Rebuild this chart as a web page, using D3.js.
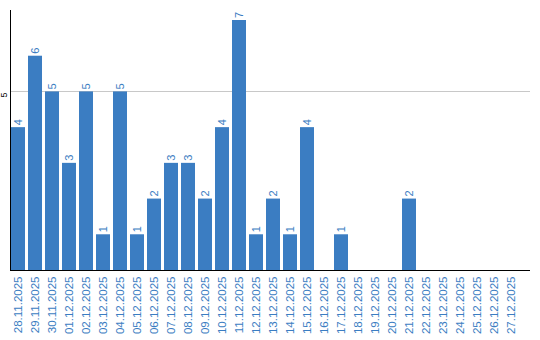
<!DOCTYPE html>
<html>
<head>
<meta charset="utf-8">
<script src="https://cdn.jsdelivr.net/npm/d3@7"></script>
<style>
  body { margin: 0; background: #fff; }
  svg { display: block; }
</style>
</head>
<body>
<script>
const dates = ['28.11.2025', '29.11.2025', '30.11.2025', '01.12.2025', '02.12.2025',
  '03.12.2025', '04.12.2025', '05.12.2025', '06.12.2025', '07.12.2025', '08.12.2025',
  '09.12.2025', '10.12.2025', '11.12.2025', '12.12.2025', '13.12.2025', '14.12.2025',
  '15.12.2025', '16.12.2025', '17.12.2025', '18.12.2025', '19.12.2025', '20.12.2025',
  '21.12.2025', '22.12.2025', '23.12.2025', '24.12.2025', '25.12.2025', '26.12.2025',
  '27.12.2025'];
const counts = [4, 6, 5, 3, 5, 1, 5, 1, 2, 3, 3, 2, 4, 7, 1, 2, 1, 4, 0, 1, 0, 0, 0, 2, 0, 0, 0, 0, 0, 0];
const yTicks = [5];

const data = dates.map((d, i) => ({ date: d, value: counts[i] }));
const blue = '#3b7dc2';
const plot = { left: 10, right: 530, top: 10, bottom: 270 };

const svg = d3.select('body').append('svg')
  .attr('width', 540)
  .attr('height', 340);

const x = d3.scaleBand()
  .domain(dates)
  .range([plot.left, 519])
  .paddingInner(0.1765)
  .paddingOuter(0.059);

const y = d3.scaleLinear()
  .domain([0, 7.28])
  .range([plot.bottom, plot.top]);

// grid
svg.append('g')
  .selectAll('line')
  .data(yTicks)
  .join('line')
  .attr('x1', plot.left)
  .attr('x2', plot.right)
  .attr('y1', d => Math.round(y(d)) + 0.5)
  .attr('y2', d => Math.round(y(d)) + 0.5)
  .attr('stroke', '#c8c8c8');

svg.append('g')
  .selectAll('rect')
  .data(data)
  .join('rect')
  .attr('x', d => x(d.date))
  .attr('y', d => y(d.value))
  .attr('width', x.bandwidth())
  .attr('height', d => y(0) - y(d.value))
  .attr('fill', blue);

// value labels
svg.append('g')
  .selectAll('text')
  .data(data.filter(d => d.value > 0))
  .join('text')
  .attr('transform', d => `translate(${x(d.date) + x.bandwidth() / 2 + 4},${y(d.value) - 2}) rotate(-90)`)
  .attr('fill', blue)
  .style('font', '11px "Liberation Sans", Arial, sans-serif')
  .text(d => d.value);

// y axis
const yAxis = d3.axisLeft(y).tickValues(yTicks).tickSize(0).tickPadding(0);
const gy = svg.append('g')
  .attr('transform', `translate(${plot.left + 0.5},0)`)
  .call(yAxis);
gy.select('.domain').attr('stroke', '#000').attr('d', `M0,${plot.top}V${plot.bottom}`);
gy.selectAll('text')
  .attr('x', 0)
  .attr('dy', 0)
  .attr('y', 0)
  .attr('transform', 'translate(-4,3) rotate(-90)')
  .attr('text-anchor', 'middle')
  .attr('fill', '#000')
  .style('font', '9px "Liberation Sans", Arial, sans-serif');

// x axis
const xAxis = d3.axisBottom(x).tickSize(0).tickPadding(0);
const gx = svg.append('g')
  .attr('transform', `translate(0,${plot.bottom + 0.5})`)
  .call(xAxis);
gx.select('.domain').attr('stroke', '#000').attr('d', `M${plot.left},0H${plot.right}`);
gx.selectAll('text')
  .attr('y', 0)
  .attr('dy', 0)
  .attr('transform', 'translate(4,6) rotate(-90)')
  .attr('text-anchor', 'end')
  .attr('fill', blue)
  .style('font', '11.5px "Liberation Sans", Arial, sans-serif');
</script>
</body>
</html>
